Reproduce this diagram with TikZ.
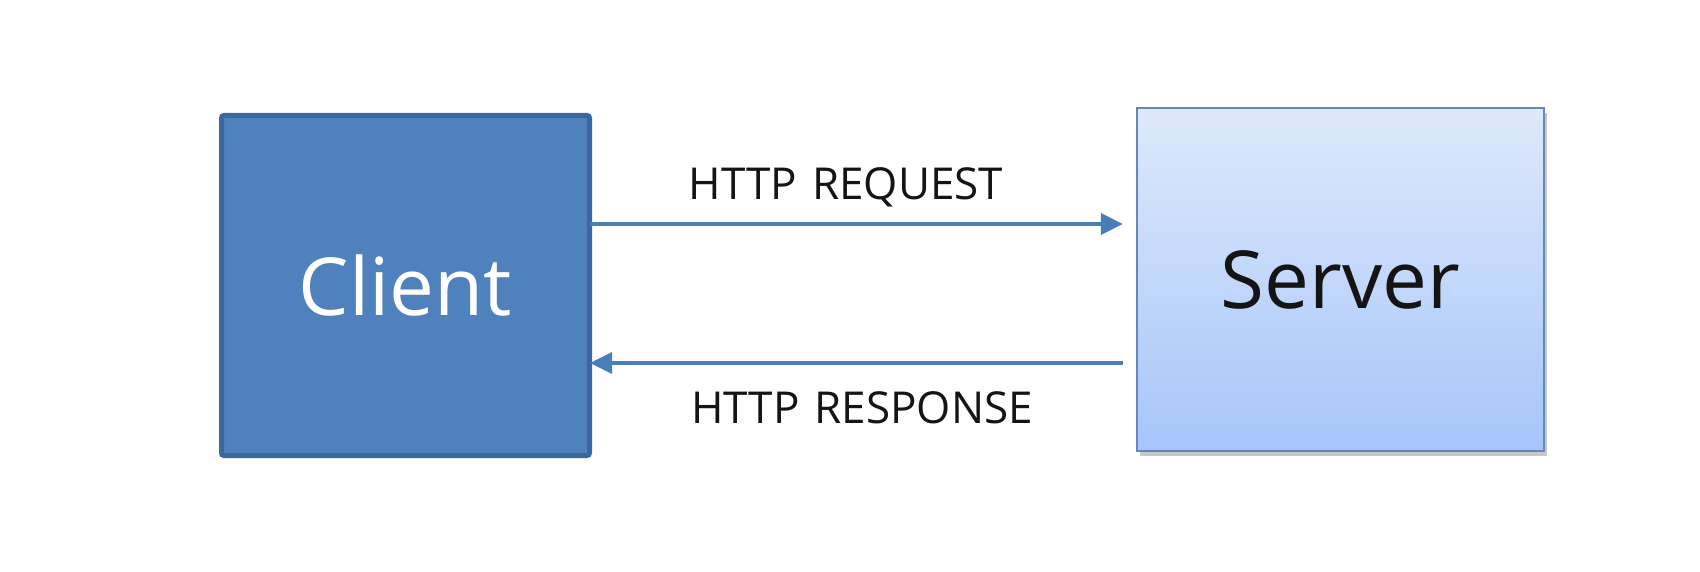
\documentclass[tikz,border=0pt]{standalone}
\usepackage{fontspec}
\setmainfont{Open Sans}
\usetikzlibrary{arrows.meta,shadows}
\definecolor{clientfill}{HTML}{4F81BD}
\definecolor{clientline}{HTML}{3A67A0}
\definecolor{servertop}{HTML}{DEE9FB}
\definecolor{serverbot}{HTML}{A6C5F9}
\definecolor{serverline}{HTML}{6488BC}
\definecolor{arrowcol}{HTML}{4A7EBB}
\definecolor{txt}{HTML}{141414}
\tikzset{
  clientbox/.style={draw=clientline, line width=5pt, fill=clientfill, rounded corners=2.5pt,
    minimum width=368pt, minimum height=340pt, inner sep=0pt, text=white, font=\fontsize{80}{90}\selectfont},
  serverbox/.style={draw=serverline, line width=1.8pt, top color=servertop, bottom color=serverbot,
    minimum width=407.5pt, minimum height=343.5pt, inner sep=0pt, text=txt, font=\fontsize{80}{90}\selectfont,
    drop shadow={shadow xshift=3pt, shadow yshift=-5pt, opacity=0.4, fill=black!55}},
  msg/.style={draw=arrowcol, line width=3.5pt, -{Triangle[length=22pt,width=21pt]}},
  msglabel/.style={anchor=base, inner sep=0pt, text=txt, font=\fontsize{44}{50}\selectfont}
}
\begin{document}
\begin{tikzpicture}[x=1pt,y=-1pt]
\useasboundingbox (0,0) rectangle (1700,572);
\fill[white] (0,0) rectangle (1700,572);
\node[clientbox] (client) at (405.5,285.5) {Client};
\node[serverbox] (server) at (1340.5,279.5) {Server};
\coordinate (reqy) at (0,224);
\coordinate (resy) at (0,363);
\coordinate (reqend) at ([xshift=-13pt]server.west |- reqy);
\coordinate (resstart) at ([xshift=-13pt]server.west |- resy);
\draw[msg] ([xshift=-2pt]client.east |- reqy) -- (reqend);
\draw[msg] (resstart) -- ([xshift=-2pt]client.east |- resy);
\node[msglabel] (reqlabel) at (846,200) {HTTP\hspace{0.08em} REQUEST};
\node[msglabel] (reslabel) at (862,423) {HTTP\hspace{0.08em} RESPONSE};
\end{tikzpicture}
\end{document}
